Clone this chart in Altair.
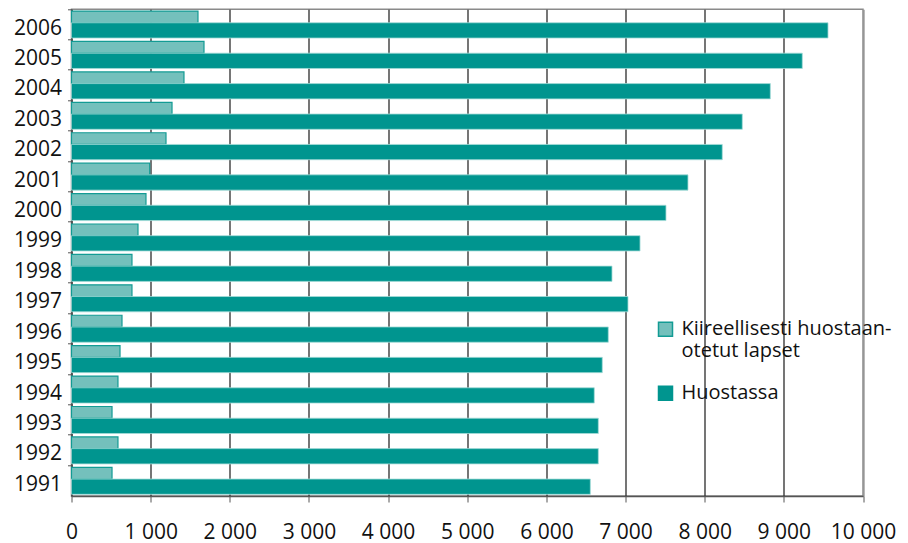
import altair as alt
import pandas as pd

years = [str(y) for y in range(1991, 2007)]
series_names = ["Kiireellisesti huostaanotetut lapset", "Huostassa"]
kiireelliset = [512, 587, 512, 587, 613, 638, 764, 764, 840, 941, 988, 1194, 1270, 1421, 1674, 1598]
huostassa = [6555, 6656, 6656, 6605, 6706, 6782, 7031, 6829, 7183, 7511, 7789, 8222, 8475, 8829, 9233, 9558]
x_ticks = list(range(0, 10001, 1000))

rows = []
for y, a, b in zip(years, kiireelliset, huostassa):
    rows.append({"vuosi": y, "sarja": series_names[0], "arvo": a})
    rows.append({"vuosi": y, "sarja": series_names[1], "arvo": b})
df = pd.DataFrame(rows)

FONT = "Open Sans"
LIGHT = "#74c0bc"
DARK = "#00958f"

y_scale = alt.Scale(domain=years[::-1], paddingInner=0, paddingOuter=0)
x_scale = alt.Scale(domain=[0, 10000], nice=False)
x_axis = alt.Axis(
    values=x_ticks, title=None, grid=True,
    gridColor={"condition": {"test": "datum.value >= 10000", "value": "#8a8a8a"}, "value": "#1a1a1a"},
    gridWidth=1.2, tickSize=6, tickColor="#555555", domainColor="#555555", domainWidth=1.5,
    labelFont=FONT, labelFontSize=21, labelColor="#111111", labelPadding=19,
    labelOverlap=False, labelFlush=False,
    labelExpr="replace(format(datum.value, ','), ',', ' ')",
)
fill_enc = alt.Fill(
    "sarja:N",
    scale=alt.Scale(domain=series_names, range=[LIGHT, DARK]),
    legend=alt.Legend(
        title=None, orient="none", legendX=584, legendY=310, padding=0,
        symbolType="square", symbolSize=196, symbolStrokeWidth=1.5,
        labelFont=FONT, labelFontSize=20, labelColor="#111111", labelOffset=6,
        labelLimit=400, rowPadding=22, labelBaseline="middle",
        labelExpr="datum.label == 'Kiireellisesti huostaanotetut lapset' ? ['Kiireellisesti huostaan-', 'otetut lapset'] : datum.label",
    ),
)
stroke_enc = alt.Stroke(
    "sarja:N",
    scale=alt.Scale(domain=series_names, range=["#139b94", DARK]),
    legend=None,
)

base = alt.Chart(df)

light = base.transform_filter(alt.datum.sarja == series_names[0]).mark_bar(
    size=11.7, strokeWidth=1.2
).encode(
    x=alt.X("arvo:Q", scale=x_scale, axis=x_axis),
    y=alt.Y("vuosi:O", scale=y_scale, sort=years[::-1],
            axis=alt.Axis(title=None, orient="left", ticks=False, tickSize=0, domain=False,
                          labelFont=FONT, labelFontSize=21, labelColor="#111111",
                          labelPadding=10, labelOffset=4, grid=False)),
    yOffset=alt.value(7.6),
    fill=fill_enc,
    stroke=stroke_enc,
)

dark = base.transform_filter(alt.datum.sarja == series_names[1]).mark_bar(
    size=15.3, strokeWidth=0.8
).encode(
    x=alt.X("arvo:Q", scale=x_scale, axis=x_axis),
    y=alt.Y("vuosi:O", scale=y_scale, sort=years[::-1],
            axis=alt.Axis(title=None, orient="left", labels=False, tickSize=4, bandPosition=0,
                          tickColor="#555555", domainColor="#555555", domainWidth=1.5, grid=False)),
    yOffset=alt.value(21.1),
    fill=fill_enc,
    stroke=alt.value("#a6dcd8"),
)

chart = alt.layer(light, dark).resolve_axis(y="independent").properties(
    width=791.5, height=486.7,
    autosize=alt.AutoSizeParams(type="none"),
    padding={"left": 63.5, "top": 1.3, "right": 37, "bottom": 47},
).configure_view(stroke="#8a8a8a", strokeWidth=1.5)

chart.save("out.html", embed_options={"renderer": "svg", "actions": False})
